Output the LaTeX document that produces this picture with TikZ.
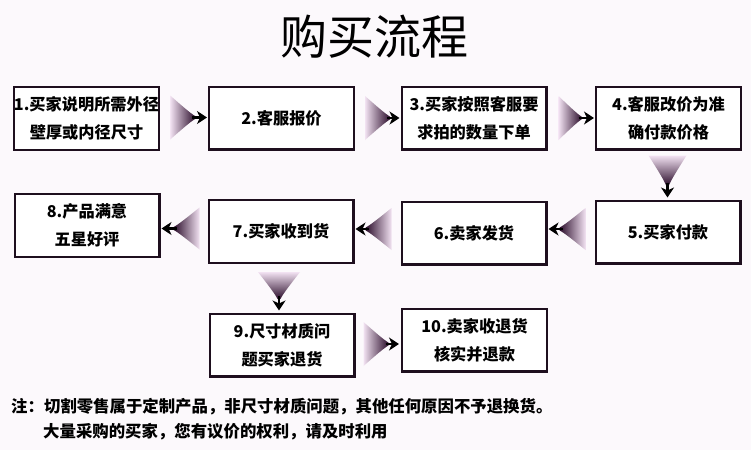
\documentclass[tikz,border=0pt]{standalone}
\usepackage{fontspec}
\setmainfont{Noto Sans CJK SC}
\usetikzlibrary{calc,arrows.meta}
\definecolor{bgc}{HTML}{FCF9FC}
\definecolor{boxline}{HTML}{1E0F1E}
\definecolor{fanlight}{HTML}{F2E2F2}
\definecolor{fanmid}{HTML}{926492}
\definecolor{fandark}{HTML}{2B0D2B}
\tikzset{
  box/.style={draw=boxline, line width=2.2pt, fill=white, minimum width=144.8pt,
    minimum height=62.8pt, inner sep=0pt, align=center,
    font=\bfseries\fontsize{16.2pt}{28pt}\selectfont},
  tipst/.style={line width=2.6pt, draw=black, -{Stealth[length=10pt,width=13pt,inset=3pt]}},
  notetext/.style={anchor=west, inner sep=0pt, font=\bfseries\fontsize{16.4pt}{20pt}\selectfont}
}
% right-pointing fan: #1 wide centre, #2 tip, #3 half height, #4 neck distance
\newcommand\fanR[4]{%
  \shade[left color=fanlight, middle color=fanmid, right color=fandark]
    ($(#1)+(0,-#3)$) .. controls ($(#1)+(0.45*#4,-0.55*#3)$) and ($(#1)+(0.8*#4,-0.2*#3)$) .. ($(#1)+(#4,-1.4)$)
    -- ($(#1)+(#4,1.4)$) .. controls ($(#1)+(0.8*#4,0.2*#3)$) and ($(#1)+(0.45*#4,0.55*#3)$) .. ($(#1)+(0,#3)$) -- cycle;
  \draw[tipst] ($(#1)+(#4-3,0)$) -- (#2);}
\newcommand\fanL[4]{%
  \shade[left color=fandark, middle color=fanmid, right color=fanlight]
    ($(#1)+(0,-#3)$) .. controls ($(#1)+(-0.45*#4,-0.55*#3)$) and ($(#1)+(-0.8*#4,-0.2*#3)$) .. ($(#1)+(-#4,-1.4)$)
    -- ($(#1)+(-#4,1.4)$) .. controls ($(#1)+(-0.8*#4,0.2*#3)$) and ($(#1)+(-0.45*#4,0.55*#3)$) .. ($(#1)+(0,#3)$) -- cycle;
  \draw[tipst] ($(#1)+(-#4+3,0)$) -- (#2);}
\newcommand\fanD[4]{%
  \shade[top color=fanlight, middle color=fanmid, bottom color=fandark]
    ($(#1)+(-#3,0)$) .. controls ($(#1)+(-0.55*#3,0.45*#4)$) and ($(#1)+(-0.2*#3,0.8*#4)$) .. ($(#1)+(-1.4,#4)$)
    -- ($(#1)+(1.4,#4)$) .. controls ($(#1)+(0.2*#3,0.8*#4)$) and ($(#1)+(0.55*#3,0.45*#4)$) .. ($(#1)+(#3,0)$) -- cycle;
  \draw[tipst] ($(#1)+(0,#4-3)$) -- (#2);}
\begin{document}
\begin{tikzpicture}[x=1pt,y=-1pt]
\useasboundingbox (0,0) rectangle (751,450);
\fill[bgc] (0,0) rectangle (751,450);

\node[inner sep=0pt, font=\fontsize{47pt}{47pt}\selectfont] (title) at (374.5,37) {购买流程};

\node[box] (b1) at (86.5,118.5) {1.买家说明所需外径\\壁厚或内径尺寸};
\node[box] (b2) at (281.5,118) {2.客服报价};
\node[box] (b3) at (474,118) {3.买家按照客服要\\求拍的数量下单};
\node[box] (b4) at (668.5,118) {4.客服改价为准\\确付款价格};
\node[box] (b5) at (668,232) {5.买家付款};
\node[box] (b6) at (474,233) {6.卖家发货};
\node[box] (b7) at (281,231.5) {7.买家收到货};
\node[box] (b8) at (87,225.5) {8.产品满意\\五星好评};
\node[box] (b9) at (282,345) {9.尺寸材质问\\题买家退货};
\node[box] (b10) at (474.5,340) {10.卖家收退货\\核实并退款};

% connector end points
\coordinate (w12) at ($(b1.east)+(10,-1)$);
\coordinate (t12) at ($(b2.west |- w12)+(-1,0)$);
\coordinate (w23) at ($(b2.east)+(10,0)$);
\coordinate (t23) at ($(b3.west |- w23)+(-1,0)$);
\coordinate (w34) at ($(b3.east)+(11,0)$);
\coordinate (t34) at ($(b4.west |- w34)+(-1,0)$);
\coordinate (w45) at ($(b4.south)+(-1,5)$);
\coordinate (t45) at ($(b5.north -| w45)+(0,-2)$);
\coordinate (w56) at ($(b5.west)+(-9,-3)$);
\coordinate (t56) at ($(b6.east |- w56)+(1,0)$);
\coordinate (w67) at ($(b6.west)+(-9,-4)$);
\coordinate (t67) at ($(b7.east |- w67)+(1,0)$);
\coordinate (w78) at ($(b7.west)+(-8,-3)$);
\coordinate (t78) at ($(b8.east |- w78)+(1,0)$);
\coordinate (w79) at ($(b7.south)+(-2,8)$);
\coordinate (t79) at ($(b9.north -| w79)+(0,-2)$);
\coordinate (w910) at ($(b9.east)+(8,-1)$);
\coordinate (t910) at ($(b10.west |- w910)+(-2,0)$);

\fanR{w12}{t12}{22}{25}
\fanR{w23}{t23}{22}{25}
\fanR{w34}{t34}{22}{23}
\fanD{w45}{t45}{19}{30}
\fanL{w56}{t56}{21}{26}
\fanL{w67}{t67}{21}{26}
\fanL{w78}{t78}{21}{26}
\fanD{w79}{t79}{21}{27}
\fanR{w910}{t910}{22}{25}

\node[notetext] (note1) at (11,407) {注：切割零售属于定制产品，非尺寸材质问题，其他任何原因不予退换货。};
\node[notetext] (note2) at (43,432) {大量采购的买家，您有议价的权利，请及时利用};
\end{tikzpicture}
\end{document}
